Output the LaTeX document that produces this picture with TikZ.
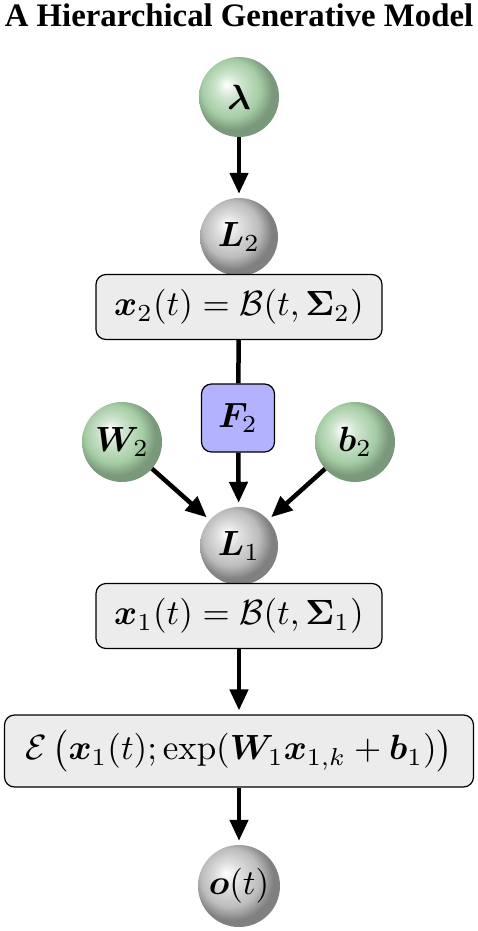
\documentclass[tikz,border=0pt]{standalone}
\usepackage{amsmath}
\usepackage{bm}
\usepackage{graphicx}
\usepackage[no-math]{fontspec}
\newfontfamily\titlefont{Liberation Serif}
\usetikzlibrary{arrows.meta,shadings}
\definecolor{gbase}{RGB}{165,205,165}
\definecolor{kbase}{RGB}{188,188,188}
\definecolor{boxgray}{RGB}{236,236,236}
\definecolor{fblue}{RGB}{178,178,255}
\pgfdeclareradialshading{greensph}{\pgfpoint{-8bp}{8bp}}{color(0bp)=(white); color(8bp)=(gbase!55!white); color(18bp)=(gbase); color(25bp)=(gbase!74!black); color(50bp)=(gbase!74!black)}
\pgfdeclareradialshading{graysph}{\pgfpoint{-8bp}{8bp}}{color(0bp)=(white); color(8bp)=(kbase!50!white); color(18bp)=(kbase); color(25bp)=(kbase!68!black); color(50bp)=(kbase!68!black)}
\newcommand{\mt}[1]{\scalebox{3.5}{$#1$}}
\tikzset{
  greenball/.style={circle,minimum size=80pt,inner sep=0pt,shading=greensph},
  grayball/.style={circle,minimum size=78pt,inner sep=0pt,shading=graysph},
  eqbox/.style={draw=black,line width=1.2pt,rounded corners=10pt,fill=boxgray,inner sep=0pt},
  funbox/.style={draw=black,line width=1.2pt,rounded corners=10pt,fill=fblue,inner sep=0pt,minimum width=73pt,minimum height=68pt},
  arr/.style={line width=4.5pt,-{Triangle[length=21pt,width=18pt]},shorten >=4pt},
  plain/.style={line width=4.5pt}
}
\begin{document}
\begin{tikzpicture}[x=1pt,y=-1pt]
\useasboundingbox (0,0) rectangle (477,931);
\node[font=\titlefont\bfseries\fontsize{32.8}{38}\selectfont,anchor=base,inner sep=0pt] (title) at (239,27) {A Hierarchical Generative Model};
\node[greenball] (lam) at (239,97) {\mt{\bm{\lambda}}};
\node[grayball] (L2) at (239,237) {\mt{\bm{L}_2}};
\node[eqbox,minimum width=286pt,minimum height=65pt] (x2) at (239,307) {\mt{\bm{x}_2(t)=\mathcal{B}(t,\bm{\Sigma}_2)}};
\node[funbox] (F2) at (238,418) {\mt{\bm{F}_2}};
\node[greenball] (W2) at (122,442) {\mt{\bm{W}_2}};
\node[greenball] (b2) at (355,442) {\mt{\bm{b}_2}};
\node[grayball] (L1) at (239,546) {\mt{\bm{L}_1}};
\node[eqbox,minimum width=286pt,minimum height=65pt] (x1) at (239,616) {\mt{\bm{x}_1(t)=\mathcal{B}(t,\bm{\Sigma}_1)}};
\node[eqbox,minimum width=469pt,minimum height=72pt] (E) at (239,751) {\mt{\mathcal{E}\,\bigl(\bm{x}_1(t);\exp(\bm{W}_1\bm{x}_{1,k}+\bm{b}_1)\bigr)}};
\node[grayball,minimum size=82pt] (o) at (239,886) {\mt{\bm{o}(t)}};
\draw[arr] (lam) -- (L2);
\draw[plain] (x2) -- (F2);
\draw[arr] (F2) -- (L1);
\draw[arr] (W2) -- (L1);
\draw[arr] (b2) -- (L1);
\draw[arr] (x1) -- (E);
\draw[arr] (E) -- (o);
\end{tikzpicture}
\end{document}
